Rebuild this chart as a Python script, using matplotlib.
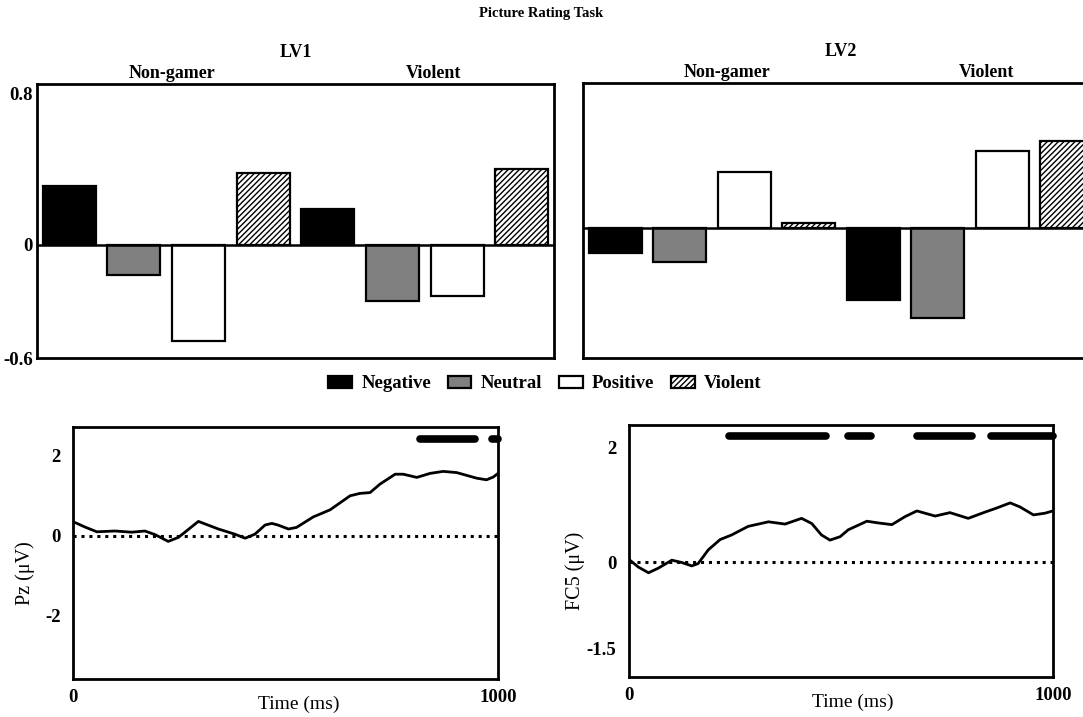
import numpy as np
import matplotlib
matplotlib.use("Agg")
import matplotlib.pyplot as plt
from matplotlib.patches import Patch

plt.rcParams['font.family'] = ['Liberation Serif', 'DejaVu Serif']
plt.rcParams['hatch.linewidth'] = 1.0

# bar chart data: 4 picture types x 2 groups
conditions = ['Negative', 'Neutral', 'Positive', 'Violent']
groups = ['Non-gamer', 'Violent']
lv1 = [0.31, -0.16, -0.51, 0.38, 0.19, -0.30, -0.27, 0.40]
lv2 = [-0.13, -0.18, 0.30, 0.027, -0.38, -0.48, 0.41, 0.46]

# waveforms (ms, microvolts)
pz_t = [0, 5, 28, 56, 99, 138, 169, 193, 224, 248, 295, 342, 381, 405, 428, 452, 468,
        482, 507, 526, 565, 605, 652, 675, 699, 722, 758, 777, 809, 840, 871, 903, 950,
        973, 989, 1000]
pz_v = [0.33, 0.33, 0.22, 0.10, 0.12, 0.09, 0.12, 0.03, -0.14, -0.04, 0.36, 0.17, 0.04,
        -0.06, 0.04, 0.27, 0.31, 0.27, 0.17, 0.21, 0.47, 0.65, 1.00, 1.06, 1.08, 1.29,
        1.54, 1.54, 1.46, 1.56, 1.61, 1.58, 1.44, 1.40, 1.47, 1.56]
pz_sig = [(816, 946), (985, 1000)]

fc5_t = [0, 2, 22, 46, 69, 101, 124, 148, 163, 187, 215, 242, 281, 329, 368, 407, 431,
         454, 474, 498, 517, 561, 588, 620, 651, 679, 722, 757, 800, 840, 867, 899, 922,
         954, 981, 1000]
fc5_v = [0.06, 0.04, -0.08, -0.18, -0.10, 0.04, 0.0, -0.06, -0.02, 0.22, 0.40, 0.48,
         0.63, 0.71, 0.67, 0.77, 0.68, 0.48, 0.39, 0.45, 0.57, 0.72, 0.69, 0.66, 0.80,
         0.90, 0.81, 0.87, 0.77, 0.88, 0.95, 1.04, 0.97, 0.83, 0.86, 0.90]
fc5_sig = [(236, 465), (517, 571), (679, 809), (853, 1000)]

faces = ['black', '#808080', 'white', 'white']
hatches = [None, None, None, '//////']

fig = plt.figure(figsize=(10.83, 7.17), dpi=100)
W, H = 1083, 717


def box(l, t, w, h):
    return [l / W, 1 - (t + h) / H, w / W, h / H]


def bar_panel(ax, vals, title, glabel_x, ylim):
    x = np.arange(len(vals))
    for i, v in enumerate(vals):
        c = i % 4
        ax.bar(x[i], v, width=0.82, color=faces[c], edgecolor='black', linewidth=1.6,
               hatch=hatches[c])
    ax.axhline(0, color='black', lw=1.8)
    ax.set_xlim(-0.5, 7.5)
    ax.set_ylim(*ylim)
    ax.set_xticks([])
    for s in ax.spines.values():
        s.set_linewidth(2)
    ax.text(0.5, 1.085, title, transform=ax.transAxes, ha='center', va='bottom',
            fontsize=13, fontweight='bold')
    for gx, g in zip(glabel_x, groups):
        ax.text(gx, 1.008, g, transform=ax.get_xaxis_transform(), ha='center',
                va='bottom', fontsize=13, fontweight='bold')


ax1 = fig.add_axes(box(37, 84, 517, 274))
bar_panel(ax1, lv1, 'LV1', [1.59, 5.63], (-0.6, 0.85))
ax1.set_yticks([-0.6, 0, 0.8], ['-0.6', '0', '0.8'])
ax1.tick_params(axis='y', length=0, pad=3, labelsize=13.5)
for lab in ax1.get_yticklabels():
    lab.set_fontweight('bold')

ax2 = fig.add_axes(box(583, 83, 516, 275))
bar_panel(ax2, lv2, 'LV2', [1.73, 5.75], (-0.69, 0.77))
ax2.set_yticks([])

fig.text(0.5, 1 - 14 / H, 'Picture Rating Task', ha='center', va='center',
         fontsize=10.5, fontweight='bold')

handles = [Patch(facecolor=faces[i], edgecolor='black', linewidth=1.6, hatch=hatches[i])
           for i in range(4)]
fig.legend(handles, conditions, ncol=4, frameon=False, loc='center',
           bbox_to_anchor=(545 / W, 1 - 384 / H), handlelength=1.25,
           handleheight=0.55, handletextpad=0.5, columnspacing=0.9,
           prop={'size': 13.5, 'weight': 'bold'})


def wave_panel(ax, t, v, sig, ylim, yticks, ylab, sig_y, xlab_x):
    ax.plot(t, v, color='black', lw=2, solid_joinstyle='round')
    ax.axhline(0, color='black', lw=2.2, ls=(0, (1, 1.6)))
    for a, b in sig:
        ax.plot([a, b], [sig_y, sig_y], color='black', lw=5.5, solid_capstyle='round',
                clip_on=False)
    ax.set_xlim(0, 1000)
    ax.set_ylim(*ylim)
    ax.set_xticks([0, 1000], ['0', '1000'])
    ax.set_yticks(yticks, [('%g' % y) for y in yticks])
    ax.tick_params(length=0, labelsize=13.5, pad=9)
    ax.tick_params(axis='x', pad=7)
    for lab in ax.get_xticklabels() + ax.get_yticklabels():
        lab.set_fontweight('bold')
    for s in ax.spines.values():
        s.set_linewidth(2)
    ax.text(xlab_x, -0.1, 'Time (ms)', transform=ax.transAxes, ha='center',
            va='center', fontsize=14)
    ax.set_ylabel(ylab, fontsize=14.5)


ax3 = fig.add_axes(box(73, 427, 425, 252))
wave_panel(ax3, pz_t, pz_v, pz_sig, (-3.58, 2.72), [-2, 0, 2], 'Pz (\u03bcV)', 2.43, 0.53)
ax3.yaxis.set_label_coords(-0.089, 0.42)

ax4 = fig.add_axes(box(629, 425, 424, 252))
wave_panel(ax4, fc5_t, fc5_v, fc5_sig, (-2.0, 2.4), [-1.5, 0, 2], 'FC5 (\u03bcV)', 2.21,
           0.528)
ax4.yaxis.set_label_coords(-0.104, 0.42)

fig.savefig('out.png', dpi=100)
